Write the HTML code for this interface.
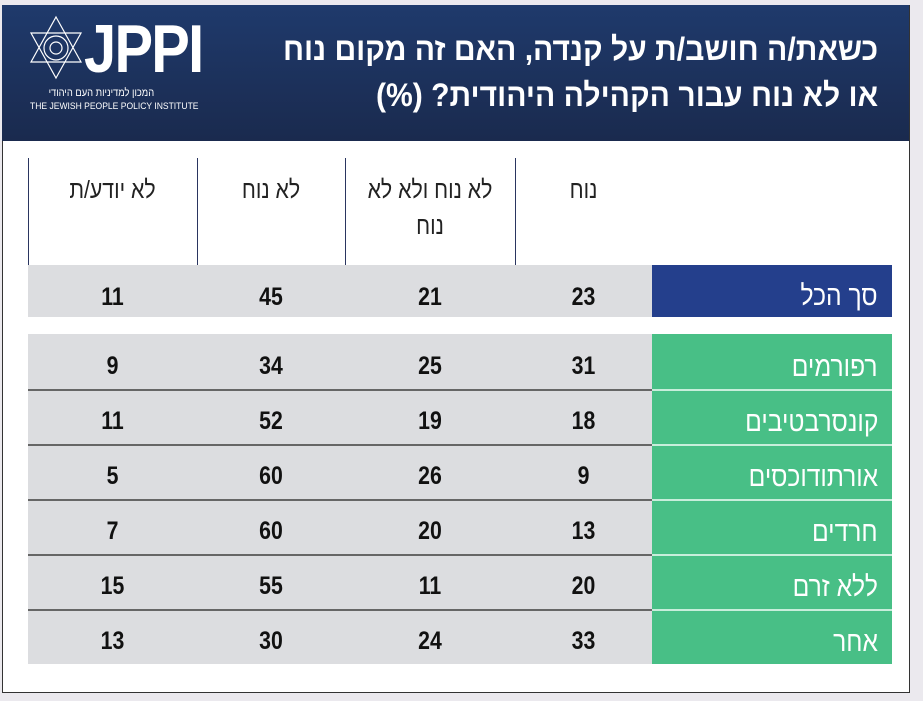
<!DOCTYPE html>
<html><head><meta charset="utf-8"><style>
body{margin:0;width:923px;height:701px;background:#ebe9ee;position:relative;overflow:hidden;font-family:"Liberation Sans","Noto Sans CJK SC",sans-serif}
.card{position:absolute;left:2px;top:5px;width:906px;height:686px;background:#fff;border:1px solid #333}
.hdr{position:absolute;left:2px;top:5px;width:907px;height:136px;background:linear-gradient(180deg,#1f3a6c,#1a2a4e)}
.title{position:absolute;right:45px;top:26px;color:#fff;font-weight:bold;font-size:32px;line-height:46px;text-align:right;direction:rtl;transform:scaleX(.94);transform-origin:right}
.a{position:absolute;box-sizing:border-box}
.g{background:#dcdde0}
.n{position:absolute;font-weight:bold;font-size:25px;color:#111;text-align:center;transform:scaleX(.85)}
.lab{position:absolute;color:#fff;font-size:28px;direction:rtl;text-align:right;transform:scaleX(.88);transform-origin:right}
.ch{position:absolute;font-size:25px;color:#222;text-align:center;direction:rtl;line-height:36px;transform:scaleX(.85)}
.vl{position:absolute;top:158px;width:1px;height:107px;background:#2a3560}
</style></head><body>
<div class="card"></div>
<div class="hdr"></div>
<svg style="position:absolute;left:26px;top:15px" width="60" height="65" viewBox="0 0 60 65"><g fill="none" stroke="#fff" stroke-width="1.2"><polygon points="30,2 55,47 5,47"/><polygon points="30,63 55,18 5,18"/><circle cx="30" cy="33" r="12"/><circle cx="30" cy="33" r="6"/></g></svg>
<div style="position:absolute;left:84px;top:16px;color:#fff;font-weight:bold;font-size:68px;line-height:66px;letter-spacing:-2px;transform:scaleX(.85);transform-origin:left">JPPI</div>
<div style="position:absolute;left:30px;top:87px;width:178px;color:#fff;font-size:11px;direction:rtl;text-align:left;white-space:nowrap"><span style="display:inline-block;transform:scaleX(.85);transform-origin:right">המכון למדיניות העם היהודי</span></div>
<div style="position:absolute;left:30px;top:101px;color:#fff;font-size:9px;white-space:nowrap;transform:scaleX(.95);transform-origin:left">THE JEWISH PEOPLE POLICY INSTITUTE</div>
<div class="title">כשאת/ה חושב/ת על קנדה, האם זה מקום נוח<br>או לא נוח עבור הקהילה היהודית? (%)</div>

<div class="vl" style="left:28px"></div><div class="vl" style="left:197px"></div><div class="vl" style="left:345px"></div><div class="vl" style="left:515px"></div>
<div class="ch" style="left:28px;width:169px;top:172px">לא יודע/ת</div>
<div class="ch" style="left:197px;width:148px;top:172px">לא נוח</div>
<div class="ch" style="left:345px;width:170px;top:172px">לא נוח ולא לא<br>נוח</div>
<div class="ch" style="left:515px;width:137px;top:172px">נוח</div>

<div class="a g" style="left:28px;top:265px;width:624px;height:52px"></div>
<div class="a" style="left:652px;top:265px;width:240px;height:52px;background:#243f8c"></div>
<div class="lab" style="right:45px;top:280px">סך הכל</div>
<div class="n" style="left:28px;width:169px;top:283px">11</div><div class="n" style="left:197px;width:148px;top:283px">45</div><div class="n" style="left:345px;width:170px;top:283px">21</div><div class="n" style="left:515px;width:137px;top:283px">23</div>

<div id="rows"></div>
<script>
var d=[["רפורמים",31,25,34,9],["קונסרבטיבים",18,19,52,11],["אורתודוכסים",9,26,60,5],["חרדים",13,20,60,7],["ללא זרם",20,11,55,15],["אחר",33,24,30,13]];
var h="";d.forEach(function(r,i){var t=334+i*55;
h+='<div class="a g" style="left:28px;top:'+t+'px;width:624px;height:55px;'+(i?'border-top:2px solid #666':'')+'"></div>';
h+='<div class="a" style="left:652px;top:'+t+'px;width:240px;height:55px;background:#48bf86;'+(i?'border-top:2px solid #c8eedb':'')+'"></div>';
var y=t+18;h+='<div class="lab" style="right:45px;top:'+(y-1)+'px">'+r[0]+'</div>';
var L=[[515,137,r[1]],[345,170,r[2]],[197,148,r[3]],[28,169,r[4]]];
L.forEach(function(c){h+='<div class="n" style="left:'+c[0]+'px;width:'+c[1]+'px;top:'+y+'px">'+c[2]+'</div>'});});
document.getElementById("rows").innerHTML=h;
</script>
</body></html>
